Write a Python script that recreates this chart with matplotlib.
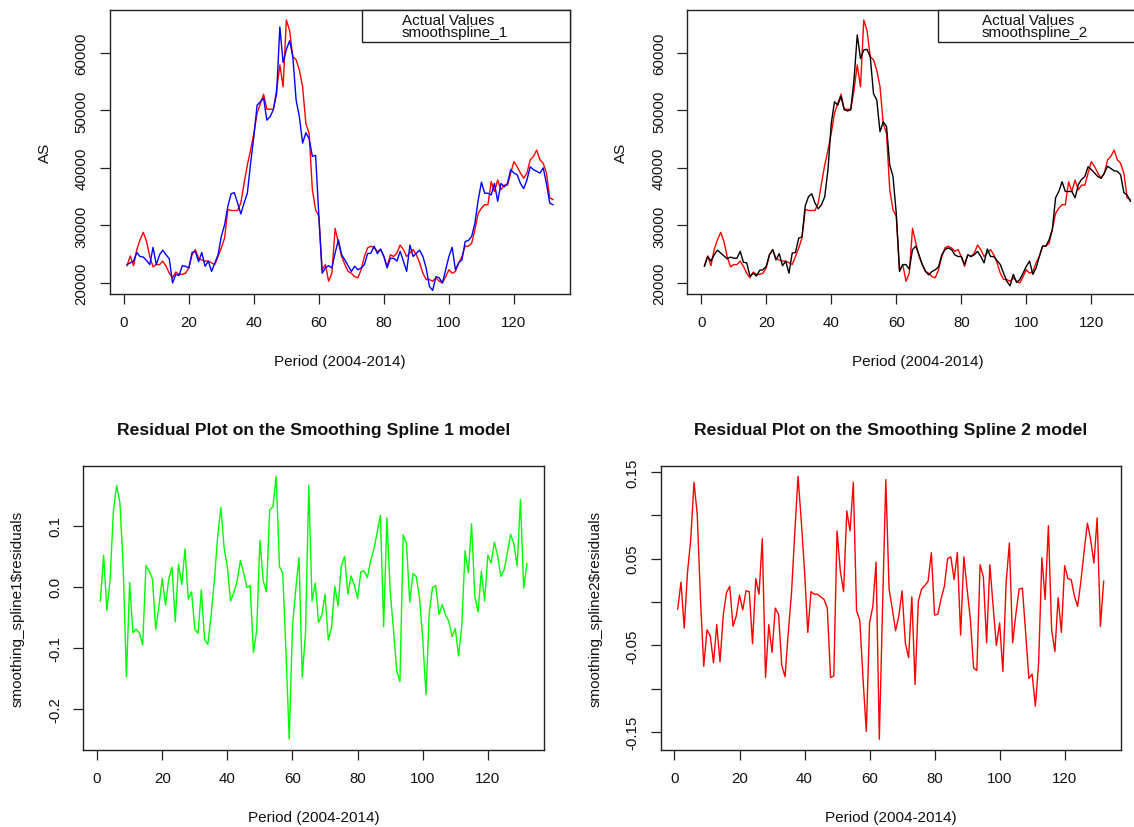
import numpy as np
import matplotlib
matplotlib.use("Agg")
import matplotlib.pyplot as plt
from matplotlib.patches import Rectangle

# ---------------- data ----------------
period = list(range(1, 133))

actual = [
    23000, 24700, 23000, 25800, 27500, 28800, 27200, 24600, 22800, 23200,
    23200, 23800, 22900, 21700, 20900, 21900, 21500, 21500, 21700, 22600,
    24900, 25800, 24300, 24000, 23800, 23800, 23500, 23200, 24600, 26100,
    27800, 32800, 32600, 32600, 32600, 33900, 37300, 40500, 43100, 46000,
    49500, 51200, 52800, 50200, 50200, 50200, 53500, 57900, 54100, 65700,
    63900, 59300, 58800, 57000, 54100, 47700, 46000, 36200, 32700, 31600,
    22300, 23200, 20300, 21700, 29500, 27000,
    24600, 23200, 22000, 21700, 21100, 20900, 22300, 24600, 26100, 26400,
    26100, 25500, 25800, 24600, 22900, 24900, 24600, 25200, 26600, 25800,
    24600, 25200, 25800, 24900, 23500, 21700, 20600, 20600, 20300, 20900,
    20300, 20000, 21100, 22300, 21700, 22000, 23500, 24600, 26400, 26400,
    26900, 29300, 32100, 33000, 33600, 33600, 37600, 35900, 37900, 36200,
    37000, 37000, 39100, 41100, 40200, 39100, 38200, 39100, 41400, 42000,
    43100, 41400, 40800, 39100, 34800, 34500]

spline1 = [
    23200, 23500, 23800, 25300, 24600, 24500, 23900, 23200, 26200, 23200,
    24900, 25700, 24900, 24200, 20000, 21500, 21300, 23000, 22900, 22600,
    25300, 25500, 23700, 25300, 22900, 23800, 22000, 23500, 24900, 28100,
    30100, 33300, 35500, 35700, 33900, 32000, 33900, 35600, 40800, 45400,
    50900, 51500, 52100, 48300, 48900, 50100, 52900, 64500, 58300, 60600,
    62100, 59300, 51800, 48900, 44300, 46100, 45100, 42000, 42200, 31600,
    21700, 22600, 23000, 22600, 25200, 27500,
    24900, 24000, 23000, 22000, 22900, 22300, 22600, 23200, 25100, 25200,
    26400, 25100, 25900, 24600, 22600, 24300, 24300, 23800, 25500, 23800,
    22000, 26600, 24600, 25200, 25700, 24600, 22600, 19400, 18700, 21100,
    20900, 20000, 22300, 24600, 26200, 22300, 23500, 24000, 27200, 27400,
    28100, 30400, 34400, 37500, 35600, 35600, 35300, 37300, 34200, 37300,
    36700, 37300, 39700, 39100, 38800, 37300, 36400, 37900, 40200, 39700,
    39400, 39100, 40000, 37300, 33900, 33600]

spline2 = [
    22900, 24600, 23800, 24900, 25700, 25200, 24700, 24200, 24500, 24300,
    24300, 25500, 23600, 23500, 21200, 21700, 21200, 22200, 22300, 22900,
    24900, 25800, 24000, 25100, 23000, 23800, 21700, 25200, 25300, 27800,
    28000, 33400, 35000, 35500, 33900, 32900, 33600, 35000, 39700, 47700,
    51500, 50900, 52400, 50100, 49900, 50100, 55300, 63100, 59000, 60500,
    60600, 59300, 52900, 51800, 46300, 48000, 47200, 40500, 38500, 32100,
    22000, 23200, 23200, 22400,
    25800, 26400, 24900, 23200, 22000, 21400, 22000, 22300, 22800, 24900,
    25800, 26100, 25800, 24900, 24600, 24600, 23200, 24900, 24600, 24900,
    25500, 24600, 23500, 25900, 24600, 24600, 23900, 23200, 21700, 20300,
    19500, 21500, 20100, 20600, 21700, 22900, 23800, 21500, 22600, 24600,
    26400, 26400, 27500, 29300, 34800, 35900, 37600, 35900, 35900, 35900,
    34800, 37100, 38000, 38500, 40200, 39700, 39100, 38500, 38200, 39100,
    40300, 39900, 39500, 39400, 38800, 35700, 35300, 34200]

resid1 = [
    -0.023, 0.052, -0.039, 0.013, 0.124, 0.166, 0.138, 0.034, -0.147, 0.007,
    -0.075, -0.069, -0.075, -0.095, 0.035, 0.026, 0.013, -0.070, -0.031, 0.014,
    -0.030, 0.013, 0.032, -0.057, 0.037, 0.004, 0.062, -0.020, -0.008, -0.069,
    -0.076, -0.005, -0.086, -0.094, -0.047, 0.010, 0.081, 0.130, 0.064, 0.032,
    -0.023, -0.009, 0.010, 0.043, 0.023, -0.001, 0.002, -0.107, -0.072, 0.076,
    0.010, -0.008, 0.126, 0.131, 0.181, 0.033, 0.023, -0.107, -0.249, -0.064,
    -0.004, 0.048, -0.148, -0.075, 0.166, -0.023, 0.006, -0.058, -0.047, -0.012,
    -0.087, -0.066, 0.001, -0.031,
    0.034, 0.050, -0.012, 0.018, 0.002, -0.019, 0.025, 0.026, 0.015, 0.043,
    0.062, 0.089, 0.117, -0.065, 0.113, -0.007, -0.069, -0.137, -0.155, 0.085,
    0.071, -0.025, 0.022, 0.017, -0.017, -0.086, -0.176, -0.042, -0.001, 0.002,
    -0.045, -0.029, -0.046, -0.056, -0.081, -0.068, -0.113, -0.063, 0.059, 0.023,
    0.103, -0.016, -0.041, 0.026, -0.023, 0.052, 0.039, 0.073, 0.051, 0.017,
    0.028, 0.056, 0.086, 0.070, 0.034, 0.143, -0.002, 0.038]

resid2 = [
    -0.008, 0.023, -0.030, 0.034, 0.072, 0.138, 0.101, 0.003, -0.074, -0.032,
    -0.039, -0.070, -0.026, -0.069, -0.015, 0.011, 0.018, -0.028, -0.016, 0.008,
    -0.009, 0.013, 0.012, -0.048, 0.027, 0.009, 0.073, -0.087, -0.026, -0.058,
    -0.007, -0.014, -0.073, -0.086, -0.035, 0.011, 0.080, 0.145, 0.093, 0.036,
    -0.035, 0.012, 0.009, 0.009, 0.006, 0.003, -0.007, -0.087, -0.085, 0.082,
    0.036, 0.012, 0.105, 0.082, 0.138, -0.010, -0.021, -0.089, -0.149, -0.024,
    -0.005, 0.046, -0.158, -0.005, 0.141, 0.015,
    -0.008, -0.033, -0.016, 0.013, -0.047, -0.064, 0.006, -0.095, 0.001, 0.015,
    0.019, 0.024, 0.057, -0.015, -0.014, 0.004, 0.018, 0.050, 0.052, 0.026,
    0.057, -0.038, 0.052, 0.015, -0.020, -0.076, -0.079, 0.043, 0.029, -0.047,
    0.043, -0.005, -0.050, -0.024, -0.080, 0.022, 0.068, -0.047, -0.014, 0.015,
    0.016, -0.035, -0.088, -0.083, -0.120, -0.070, 0.051, 0.003, 0.088, -0.032,
    -0.057, 0.005, -0.035, 0.042, 0.027, 0.026, 0.007, -0.005, 0.024, 0.059,
    0.091, 0.072, 0.045, 0.097, -0.028, 0.024]

x_ticks = [0, 20, 40, 60, 80, 100, 120]
top_yticks = [20000, 30000, 40000, 50000, 60000]
bl_yticks = [-0.2, -0.1, 0.0, 0.1]
bl_yticklabels = ["-0.2", "-0.1", "0.0", "0.1"]
br_yticks = [-0.15, -0.10, -0.05, 0.0, 0.05, 0.10, 0.15]
br_yticklabels = ["-0.15", "", "-0.05", "", "0.05", "", "0.15"]

legend1 = ["Actual Values", "smoothspline_1"]
legend2 = ["Actual Values", "smoothspline_2"]
titles = ["Residual Plot on the Smoothing Spline 1 model",
          "Residual Plot on the Smoothing Spline 2 model"]
xlab = "Period (2004-2014)"

# ---------------- layout ----------------
plt.rcParams['font.family'] = ['Liberation Sans', 'DejaVu Sans']
W, H = 1134, 828
fig = plt.figure(figsize=(W / 100, H / 100), dpi=100)
fig.patch.set_facecolor('white')


def ax_at(x0, y0, x1, y1):
    return fig.add_axes([x0 / W, 1 - y1 / H, (x1 - x0) / W, (y1 - y0) / H])


def rlim(vals):
    lo, hi = min(vals), max(vals)
    p = 0.04 * (hi - lo)
    return lo - p, hi + p


FS = 10.8
TXT = '#111111'


def style(ax, yticks, yticklabels=None):
    for s in ax.spines.values():
        s.set_linewidth(1.0)
        s.set_color('#222222')
    ax.set_xlim(rlim(period))
    ax.set_xticks(x_ticks)
    ax.set_yticks(yticks)
    if yticklabels is not None:
        ax.set_yticklabels(yticklabels)
    ax.tick_params(axis='both', direction='out', length=7, width=0.9,
                   color='#222222', labelsize=FS, labelcolor=TXT)
    ax.tick_params(axis='x', pad=8.5)
    ax.tick_params(axis='y', pad=10.5)
    for lb in ax.get_yticklabels():
        lb.set_rotation(90)
        lb.set_rotation_mode('anchor')
        lb.set_ha('center')
        lb.set_va('baseline')
    ax.set_xlabel(xlab, fontsize=11, color=TXT)
    ax.xaxis.set_label_coords(0.5, -0.237)
    ax.xaxis.label.set_va('center')


def legend_box(ax, x0, xt, labels):
    r = Rectangle((x0, 0.8866), 1.0 - x0, 1.0 - 0.8866, transform=ax.transAxes,
                  facecolor='white', edgecolor='#222222', lw=1.0, zorder=5,
                  clip_on=False)
    ax.add_patch(r)
    ax.text(xt, 0.9405, "\n".join(labels), transform=ax.transAxes,
            fontsize=11, ha='left', va='center', zorder=6, color=TXT,
            linespacing=0.82)


# top-left
ax1 = ax_at(110, 10.5, 570, 294.5)
ax1.plot(period, actual, color='red', lw=1.0)
ax1.plot(period, spline1, color='blue', lw=1.0)
ax1.set_ylim(rlim(actual))
style(ax1, top_yticks)
ax1.set_ylabel("AS", fontsize=11, color=TXT)
ax1.yaxis.set_label_coords(-0.1413, 0.5)
ax1.yaxis.label.set_va('center')
legend_box(ax1, 0.547, 0.634, legend1)

# top-right (cropped on the right, as in the reference)
ax2 = ax_at(687.4, 10.5, 1147.4, 294.5)
ax2.plot(period, actual, color='red', lw=1.0)
ax2.plot(period, spline2, color='black', lw=1.0)
ax2.set_ylim(rlim(actual))
style(ax2, top_yticks)
ax2.set_ylabel("AS", fontsize=11, color=TXT)
ax2.yaxis.set_label_coords(-0.144, 0.5)
ax2.yaxis.label.set_va('center')
legend_box(ax2, 0.5448, 0.6404, legend2)

# bottom-left
ax3 = ax_at(83.3, 466.7, 544, 750.7)
ax3.plot(period, resid1, color='#00FF00', lw=1.0)
ax3.set_ylim(rlim(resid1))
style(ax3, bl_yticks, bl_yticklabels)
ax3.set_ylabel("smoothing_spline1$residuals", fontsize=11, color=TXT)
ax3.yaxis.set_label_coords(-0.1417, 0.5)
ax3.yaxis.label.set_va('center')
ax3.set_title(titles[0], fontsize=12.6, fontweight='bold', y=1.129,
              va='center', pad=0, color=TXT)

# bottom-right
ax4 = ax_at(660.7, 466.7, 1120.7, 750.7)
ax4.plot(period, resid2, color='red', lw=1.0)
ax4.set_ylim(rlim(resid2))
style(ax4, br_yticks, br_yticklabels)
ax4.set_ylabel("smoothing_spline2$residuals", fontsize=11, color=TXT)
ax4.yaxis.set_label_coords(-0.1407, 0.5)
ax4.yaxis.label.set_va('center')
ax4.set_title(titles[1], fontsize=12.6, fontweight='bold', y=1.129,
              va='center', pad=0, color=TXT)

fig.savefig("out.png", dpi=100)
